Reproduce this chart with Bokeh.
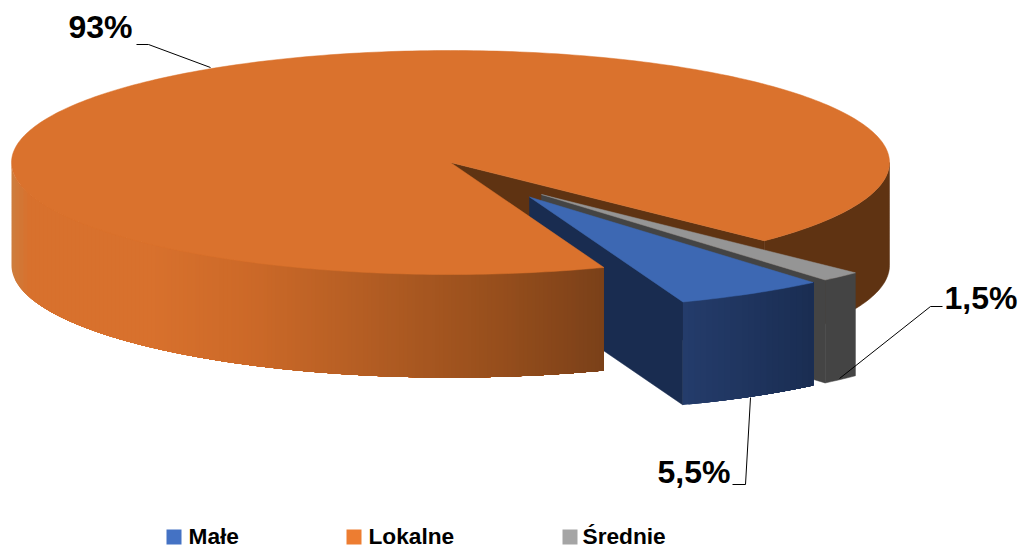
import math
from bokeh.plotting import figure
from bokeh.models import Range1d
from bokeh.core.properties import value
from bokeh.embed import file_html
from bokeh.resources import INLINE

categories = ["Małe", "Lokalne", "Średnie"]
shares = [5.5, 93, 1.5]
data_labels = ["5,5%", "93%", "1,5%"]
legend_colors = ["#4472C4", "#ED7D31", "#A5A5A5"]

CX, CY, RX, RY, DEPTH = 450, 162, 439, 112, 103
START = 49.75
OFFSETS = [(79, 34.5), (0, 0), (91, 32)]

p = figure(width=1019, height=547, x_range=Range1d(0, 1019), y_range=Range1d(547, 0),
           output_backend="svg", toolbar_location=None, min_border=0)
p.axis.visible = False
p.grid.visible = False
p.outline_line_color = None


def pt(t, off=(0, 0), dz=0):
    r = math.radians(t)
    return CX + off[0] + RX * math.cos(r), CY + off[1] + RY * math.sin(r) + dz


def arc(t0, t1, off=(0, 0), dz=0, step=1.0):
    n = max(2, int(abs(t1 - t0) / step) + 1)
    return [pt(t0 + (t1 - t0) * i / (n - 1), off, dz) for i in range(n)]


def poly(points, color, line=True):
    p.patch([a for a, _ in points], [b for _, b in points], fill_color=color,
            line_color=color if line else None, line_width=0.5)


def lerp(stops, x):
    for (x0, c0), (x1, c1) in zip(stops, stops[1:]):
        if x <= x1:
            f = max(0.0, (x - x0) / (x1 - x0))
            return "#%02x%02x%02x" % tuple(round(a + (b - a) * f) for a, b in zip(c0, c1))
    return "#%02x%02x%02x" % stops[-1][1]


def wall(t_left, t_right, off, stops, band=4):
    """Painter's bands: each one runs from its left edge to the wall's right end."""
    cx = CX + off[0]
    x0 = pt(t_left, off)[0]
    x1 = pt(t_right, off)[0]
    x = x0
    while x < x1:
        t = math.degrees(math.acos(max(-1, min(1, (x - cx) / RX))))
        poly(arc(t, t_right, off) + arc(t_right, t, off, DEPTH), lerp(stops, x + band / 2), line=False)
        x = math.floor(x) + band


# slice boundaries from the shares
blue0 = START
blue1 = blue0 + shares[0] * 3.6
orange1 = blue1 + shares[1] * 3.6
gray1 = orange1 + shares[2] * 3.6

apex = (CX, CY)
apex_low = (CX, CY + DEPTH)

# orange: far cut face and rear right wall
rear = orange1 - 360
poly([apex, pt(rear), pt(rear, dz=DEPTH), apex_low], "#5f3312")
poly(arc(0, rear) + arc(rear, 0, dz=DEPTH), "#5f3312")

# gray slice
go = OFFSETS[2]
g_a = (CX + go[0], CY + go[1])
g_t0, g_t1 = orange1 - 360, gray1 - 360
poly([g_a, pt(g_t1, go), pt(g_t1, go, DEPTH), (g_a[0], g_a[1] + DEPTH)], "#444444")
poly(arc(g_t0, g_t1, go) + arc(g_t1, g_t0, go, DEPTH), "#444444")
poly([g_a] + arc(g_t0, g_t1, go), "#959595")

# blue slice
bo = OFFSETS[0]
b_a = (CX + bo[0], CY + bo[1])
poly([b_a, pt(blue1, bo), pt(blue1, bo, DEPTH), (b_a[0], b_a[1] + DEPTH)], "#192c50")
wall(blue1, blue0, bo, [(684, (36, 60, 107)), (812, (26, 45, 82))], band=6)
poly([b_a] + arc(blue0, blue1, bo), "#3d68b3")

# orange front wall and top
wall(180, blue1, (0, 0), [(11, (205, 125, 62)), (28, (216, 113, 45)), (150, (216, 113, 45)),
                          (250, (204, 105, 40)), (350, (183, 95, 36)), (500, (150, 78, 28)),
                          (605, (122, 64, 25))], band=4)
poly([apex] + arc(blue1, orange1), "#da722d")

# leader lines
p.line([136, 148, 210], [44, 44, 67], line_color="black", line_width=1)
p.line([942, 930, 839], [306, 306, 378], line_color="black", line_width=1)
p.line([732, 745, 750], [484, 484, 397], line_color="black", line_width=1)

# data labels
p.text([657, 68, 944], [471, 26, 297], text=data_labels, text_font=value("Liberation Sans"),
       text_font_style="bold", text_font_size="32px", text_color="black",
       text_baseline="alphabetic", text_align="left")

# legend
legend_x = [166, 346, 562]
legend_text_x = [188, 368, 582]
p.quad(left=legend_x, right=[x + 15 for x in legend_x], top=[529] * 3, bottom=[544] * 3,
       fill_color=legend_colors, line_color=None)
p.text(legend_text_x, [535] * 3, text=categories, text_font=value("Liberation Sans"),
       text_font_style="bold", text_font_size="22.7px", text_color="black",
       text_baseline="alphabetic", text_align="left")

open("out.html", "w").write(file_html(p, INLINE))
